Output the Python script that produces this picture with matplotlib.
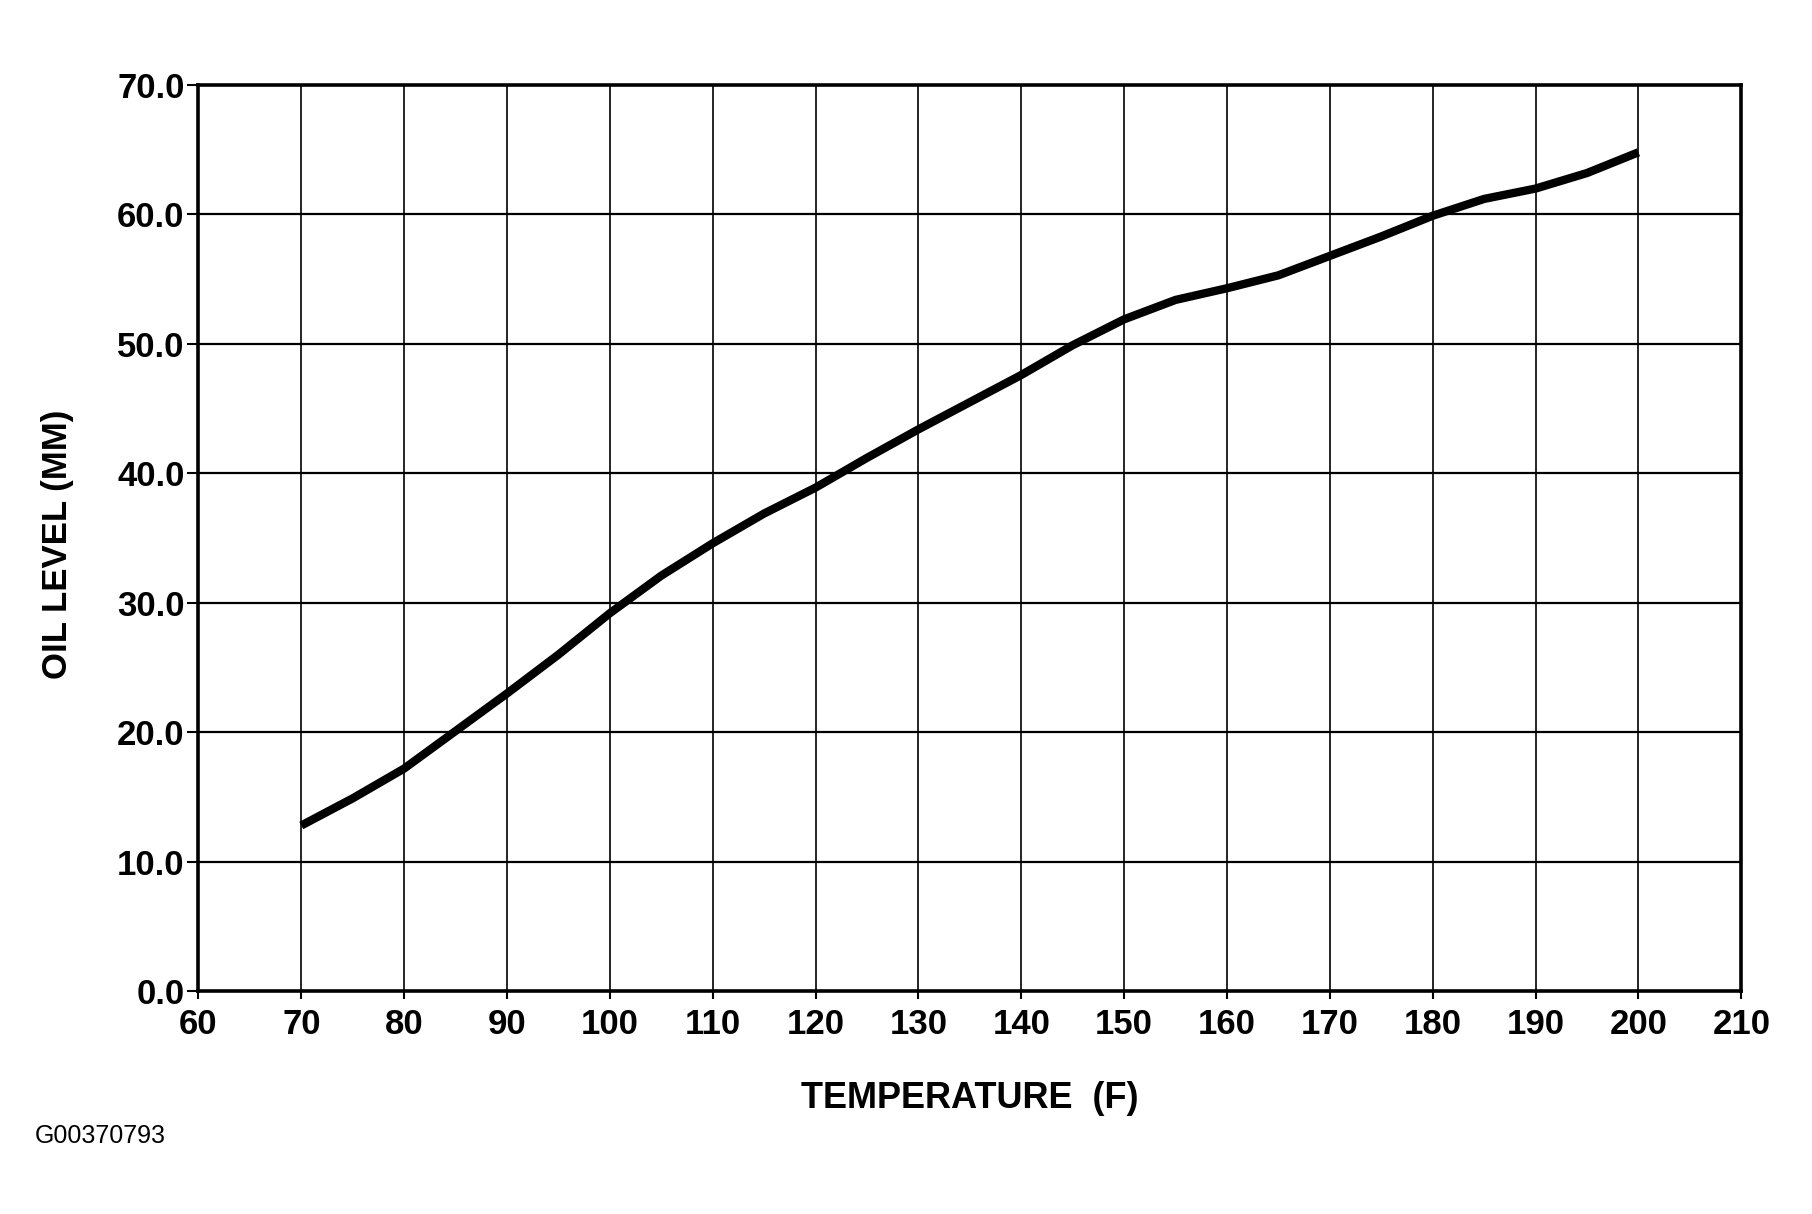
import matplotlib
matplotlib.use("Agg")
import matplotlib.pyplot as plt

# values
temps = [70, 75, 80, 85, 90, 95, 100, 105, 110, 115, 120, 125, 130, 135,
         140, 145, 150, 155, 160, 165, 170, 175, 180, 185, 190, 195, 200]
levels = [12.8, 14.9, 17.2, 20.1, 23.0, 26.0, 29.2, 32.1, 34.6, 36.9, 38.9,
          41.2, 43.4, 45.5, 47.6, 49.9, 51.9, 53.4, 54.3, 55.3, 56.8, 58.3,
          59.9, 61.2, 62.0, 63.2, 64.8]
x_ticks = list(range(60, 211, 10))
y_ticks = list(range(0, 71, 10))

plt.rcParams['font.family'] = ['Liberation Sans', 'DejaVu Sans']

fig = plt.figure(figsize=(18.12, 12.14), dpi=100)
ax = fig.add_axes([0.1095, 0.1835, 0.8515, 0.7465])

#grid lines
for t in x_ticks[1:-1]:
    ax.axvline(t, color='black', lw=1.2, zorder=1)
for v in y_ticks[1:-1]:
    ax.axhline(v, color='black', lw=1.6, zorder=1)

ax.plot(temps, levels, color='black', lw=6, solid_capstyle='butt',
        solid_joinstyle='round', zorder=3)

ax.set_xlim(60, 210)
ax.set_ylim(0, 70)
ax.set_xticks(x_ticks)
ax.set_yticks(y_ticks)
ax.set_yticklabels(['%.1f' % v for v in y_ticks])

for s in ax.spines.values():
    s.set_linewidth(2.6)
    s.set_color('black')

ax.tick_params(axis='both', direction='out', width=1.5, colors='black',
               labelsize=25)
ax.tick_params(axis='x', length=6, pad=6)
ax.tick_params(axis='y', length=8, pad=2)
for lab in ax.get_xticklabels() + ax.get_yticklabels():
    lab.set_fontweight('bold')

fig.text(0.535, 0.095, 'TEMPERATURE  (F)', ha='center', va='center',
         fontsize=26, fontweight='bold')
fig.text(0.032, 0.552, 'OIL LEVEL (MM)', ha='center', va='center',
         rotation=90, fontsize=25, fontweight='bold')
fig.text(0.019, 0.064, 'G00370793', ha='left', va='center', fontsize=18)

fig.savefig('out.png', dpi=100, facecolor='white')
